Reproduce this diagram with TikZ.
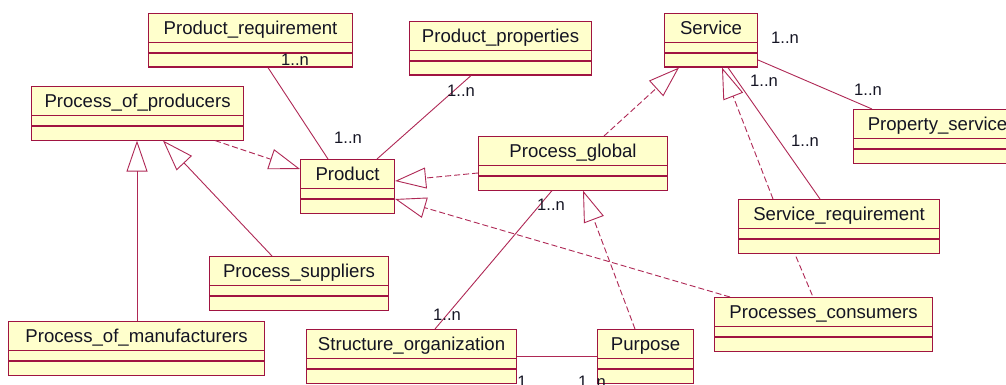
\documentclass[tikz,border=0pt]{standalone}
\usepackage{fontspec}
\setmainfont{Liberation Sans}
\usetikzlibrary{arrows.meta,calc}
\definecolor{umlborder}{RGB}{160,20,65}
\definecolor{umlline}{RGB}{175,40,85}
\definecolor{umlfill}{RGB}{255,255,204}
\definecolor{umlink}{RGB}{20,20,35}
\tikzset{
  umlbox/.style={draw=umlborder, fill=umlfill, line width=1.1pt, inner sep=0pt, anchor=north west, minimum height=53.5pt},
  umltext/.style={inner sep=0pt, anchor=base, text=umlink, font=\fontsize{18.6}{20}\selectfont},
  mult/.style={inner sep=0pt, text=umlink, font=\fontsize{16.6}{18}\selectfont},
  assoc/.style={draw=umlline, line width=0.9pt},
  depend/.style={draw=umlline, line width=0.9pt, dash pattern=on 6pt off 3pt},
  gen/.style={-{Triangle[open,length=31pt,width=21pt,line width=0.9pt]}},
}
\newcommand{\umlclass}[6]{%
  \node[umlbox, minimum width=#4pt] (#1) at (#2,#3) {};
  \node[umltext] (#1-t) at ([yshift=-21.7pt]#1.north) {#6};
  \draw[umlborder, line width=1.1pt] ([yshift=-29.5pt]#1.north west) -- ([yshift=-29.5pt]#1.north east);
  \draw[umlborder, line width=1.1pt] ([yshift=-40pt]#1.north west) -- ([yshift=-40pt]#1.north east);
}
\begin{document}
\begin{tikzpicture}[x=1pt, y=-1pt]
\clip (0,0) rectangle (1006,385);
\fill[white] (0,0) rectangle (1006,385);

% classes
\umlclass{preq}{148}{13}{204}{}{Product\_requirement}
\umlclass{pprod}{31}{86}{212}{}{Process\_of\_producers}
\umlclass{product}{300}{159}{94}{}{Product}
\umlclass{pprops}{409}{21}{182}{}{Product\_properties}
\umlclass{pglobal}{478}{136}{189}{}{Process\_global}
\umlclass{service}{664}{13}{93}{}{Service}
\umlclass{propserv}{853}{109}{168}{}{Property\_service}
\umlclass{servreq}{738}{199}{201}{}{Service\_requirement}
\umlclass{pcons}{714}{297}{218}{}{Processes\_consumers}
\umlclass{purpose}{597}{329}{96}{}{Purpose}
\umlclass{structorg}{306}{329}{210}{}{Structure\_organization}
\umlclass{psupp}{209}{256}{179}{}{Process\_suppliers}
\umlclass{pmanu}{8}{321}{256}{}{Process\_of\_manufacturers}

% associations
\draw[assoc] ([xshift=120pt]preq.south west) -- ([xshift=28pt]product.north west);
\draw[assoc] ([xshift=62pt]pprops.south west) -- ([xshift=77pt]product.north west);
\draw[assoc] ([xshift=64pt]service.south west) -- ([xshift=82pt]servreq.north west);
\draw[assoc] ([yshift=-47pt]service.north east) -- ([xshift=19pt]propserv.north west);
\draw[assoc] ([xshift=74pt]pglobal.south west) -- ([xshift=129pt]structorg.north west);
\draw[assoc] ([yshift=-27pt]structorg.north east) -- ([yshift=-27pt]purpose.north west);
\draw[depend] ([xshift=58pt,yshift=-3pt]servreq.south west) -- ([xshift=99pt]pcons.north west);

% generalizations / realizations
\draw[depend, gen] ([xshift=184pt]pprod.south west) -- ([yshift=-10pt]product.north west);
\draw[depend, gen] ([yshift=-37pt]pglobal.north west) -- ([yshift=-22pt]product.north east);
\draw[depend, gen] ([xshift=16pt]pcons.north west) -- ([yshift=-40pt]product.north east);
\draw[depend, gen] ([xshift=126pt]pglobal.north west) -- ([xshift=15pt]service.south west);
\draw[depend, gen] ([xshift=35pt]servreq.north west) -- ([xshift=58pt]service.south west);
\draw[depend, gen] ([xshift=38pt]purpose.north west) -- ([xshift=105pt]pglobal.south west);
\draw[assoc, gen] ([xshift=129pt]pmanu.north west) -- ([xshift=106pt]pprod.south west);
\draw[assoc, gen] ([xshift=63pt]psupp.north west) -- ([xshift=132pt]pprod.south west);

% multiplicities
\node[mult] (m1) at (295,60) {1..n};
\node[mult] (m2) at (348,138) {1..n};
\node[mult] (m3) at (461,91) {1..n};
\node[mult] (m4) at (785,38) {1..n};
\node[mult] (m5) at (764,81) {1..n};
\node[mult] (m6) at (805,141) {1..n};
\node[mult] (m7) at (868,90) {1..n};
\node[mult] (m8) at (551,205) {1..n};
\node[mult] (m9) at (447,315) {1..n};
\node[mult] (m10) at (522,382) {1};
\node[mult] (m11) at (592,382) {1..n};
\end{tikzpicture}
\end{document}
